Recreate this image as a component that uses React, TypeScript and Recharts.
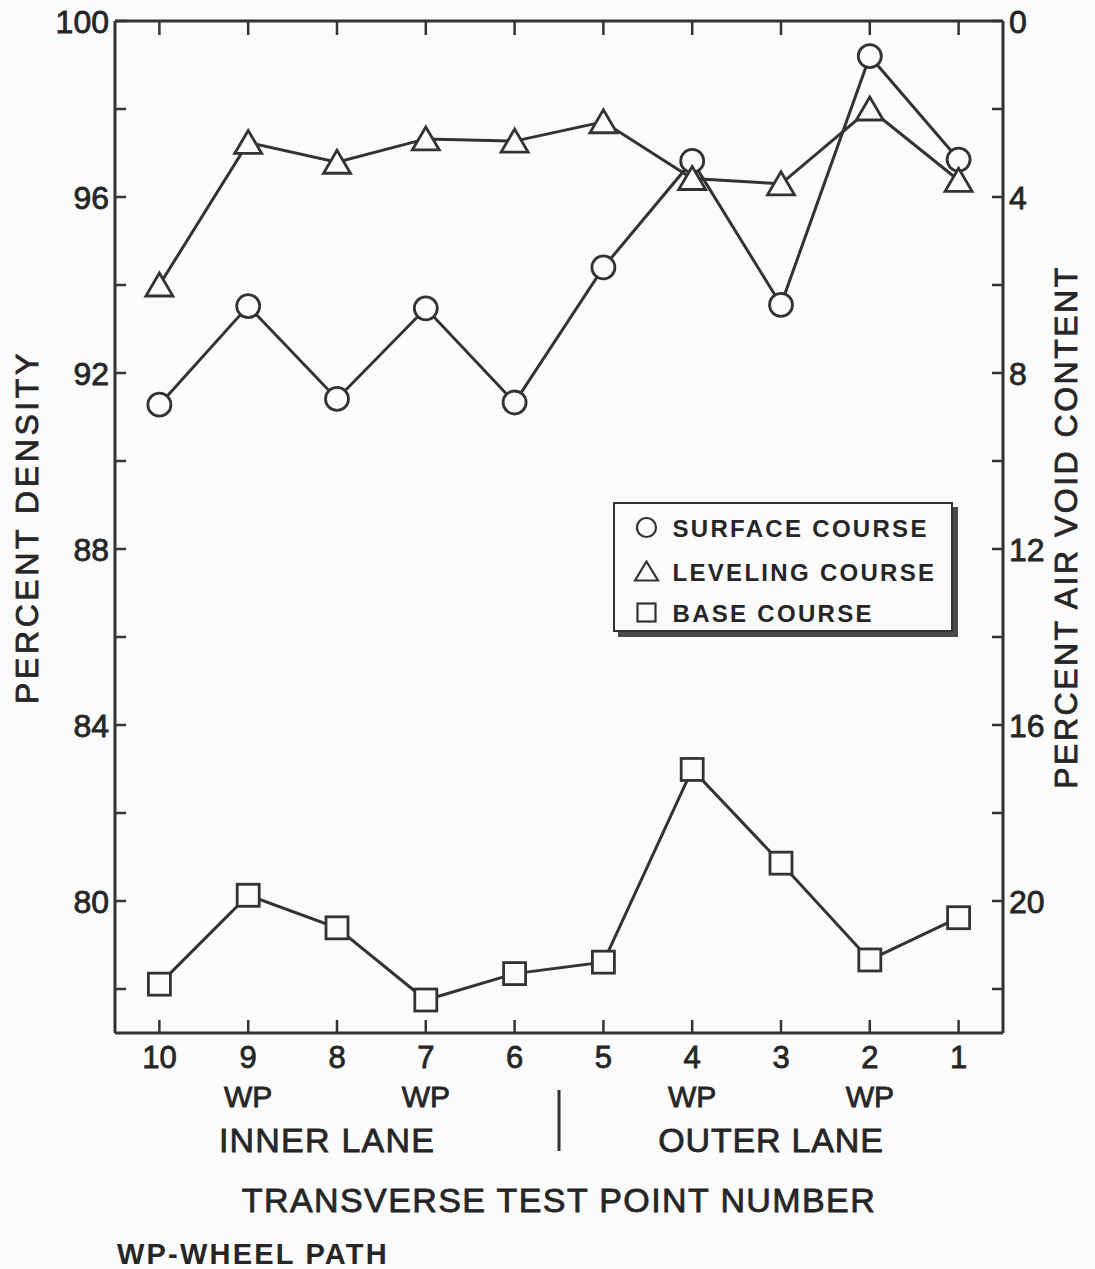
import React from 'react';
import { LineChart, Line, XAxis, YAxis, Legend, Label } from 'recharts';

// ---- data ----
const pointNumbers = [10, 9, 8, 7, 6, 5, 4, 3, 2, 1];
const surfaceDensity = [91.28, 93.52, 91.41, 93.47, 91.33, 94.4, 96.82, 93.55, 99.2, 96.85];
const levelingDensity = [94.0, 97.24, 96.79, 97.32, 97.27, 97.71, 96.42, 96.3, 98.0, 96.38];
const baseDensity = [78.11, 80.13, 79.39, 77.75, 78.35, 78.61, 82.99, 80.86, 78.66, 79.62];
const wheelPathPoints = [9, 7, 4, 2];
const densityTicks = [78, 80, 82, 84, 86, 88, 90, 92, 94, 96, 98, 100];
const densityLabels = [80, 84, 88, 92, 96, 100];
const voidTicks = [0, 2, 4, 6, 8, 10, 12, 14, 16, 18, 20, 22];
const voidLabels = [0, 4, 8, 12, 16, 20];
const seriesKeys = ['surface', 'leveling', 'base'];
const seriesNames = ['SURFACE COURSE', 'LEVELING COURSE', 'BASE COURSE'];
const laneLabels = ['INNER LANE', 'OUTER LANE'];

const data = pointNumbers.map((p, i) => ({
  point: p,
  surface: surfaceDensity[i],
  leveling: levelingDensity[i],
  base: baseDensity[i],
}));

// ---- layout / style ----
const W = 1095;
const H = 1269;
const LEFT_W = 115;
const RIGHT_W = 92;
const BOTTOM_H = 236;
const INK = '#333333';
const TEXT = '#262626';
const BG = '#fbfbfb';
const HALF_STEP = (W - LEFT_W - RIGHT_W) / 20;
const TXT_STROKE = { stroke: TEXT, strokeWidth: 0.8 };

const circleDot = (props: any) => {
  const { cx, cy, index } = props;
  if (cx == null || cy == null) return <g key={`c${index}`} />;
  return <circle key={`c${index}`} cx={cx} cy={cy} r={11.5} fill={BG} stroke={INK} strokeWidth={2.8} />;
};
const triangleDot = (props: any) => {
  const { cx, cy, index } = props;
  if (cx == null || cy == null) return <g key={`t${index}`} />;
  const pts = `${cx},${cy - 12} ${cx - 13.5},${cy + 11} ${cx + 13.5},${cy + 11}`;
  return <polygon key={`t${index}`} points={pts} fill={BG} stroke={INK} strokeWidth={2.8} strokeLinejoin="miter" />;
};
const squareDot = (props: any) => {
  const { cx, cy, index } = props;
  if (cx == null || cy == null) return <g key={`s${index}`} />;
  return <rect key={`s${index}`} x={cx - 11} y={cy - 11} width={22} height={22} fill={BG} stroke={INK} strokeWidth={2.8} />;
};

const BottomTick = (props: any) => {
  const { x, y, payload } = props;
  const v = payload.value;
  return (
    <g>
      <text x={x} y={y + 35} textAnchor="middle" fontSize={31} fill={TEXT} {...TXT_STROKE}>{v}</text>
      {wheelPathPoints.includes(v) && (
        <text x={x} y={y + 74} textAnchor="middle" fontSize={30} fill={TEXT} {...TXT_STROKE}>WP</text>
      )}
      {v === 8 && (
        <text x={x - 10} y={y + 119} textAnchor="middle" fontSize={34} letterSpacing={1.2} fill={TEXT} {...TXT_STROKE}>{laneLabels[0]}</text>
      )}
      {v === 3 && (
        <text x={x - 10} y={y + 119} textAnchor="middle" fontSize={34} letterSpacing={0.8} fill={TEXT} {...TXT_STROKE}>{laneLabels[1]}</text>
      )}
      {v === 5 && (
        <line x1={x - HALF_STEP} x2={x - HALF_STEP} y1={y + 57} y2={y + 118} stroke={INK} strokeWidth={3} />
      )}
    </g>
  );
};

const EmptyTick = () => <g />;

const LeftTick = (props: any) => {
  const { x, y, payload } = props;
  if (!densityLabels.includes(payload.value)) return <g />;
  return (
    <text x={x} y={y} dy="0.36em" textAnchor="end" fontSize={32} fill={TEXT} {...TXT_STROKE}>{payload.value}</text>
  );
};

const RightTick = (props: any) => {
  const { x, y, payload } = props;
  if (!voidLabels.includes(payload.value)) return <g />;
  return (
    <text x={x} y={y} dy="0.36em" textAnchor="start" fontSize={32} fill={TEXT} {...TXT_STROKE}>{payload.value}</text>
  );
};

const BottomTitle = (props: any) => {
  const vb = props.viewBox || {};
  const cx = vb.x + vb.width / 2;
  return (
    <g>
      <text x={cx} y={vb.y + 179} textAnchor="middle" fontSize={34} letterSpacing={1.4} fill={TEXT} {...TXT_STROKE}>
        TRANSVERSE TEST POINT NUMBER
      </text>
      <text x={117} y={vb.y + 231} textAnchor="start" fontSize={29} fontWeight="bold" letterSpacing={2.2} fill={TEXT}>
        WP-WHEEL PATH
      </text>
    </g>
  );
};

const LeftTitle = (props: any) => {
  const vb = props.viewBox || {};
  const cy = vb.y + vb.height / 2;
  const x = vb.x + 38;
  return (
    <text x={x} y={cy} transform={`rotate(-90, ${x}, ${cy})`} textAnchor="middle" fontSize={32} letterSpacing={3.6} fill={TEXT} {...TXT_STROKE}>
      PERCENT DENSITY
    </text>
  );
};

const RightTitle = (props: any) => {
  const vb = props.viewBox || {};
  const cy = vb.y + vb.height / 2;
  const x = vb.x + 74;
  return (
    <text x={x} y={cy} transform={`rotate(-90, ${x}, ${cy})`} textAnchor="middle" fontSize={32} letterSpacing={2.5} fill={TEXT} {...TXT_STROKE}>
      PERCENT AIR VOID CONTENT
    </text>
  );
};

const LegendBox = (props: any) => {
  const payload = props.payload || [];
  const rowsY = [23.5, 67.5, 108.5];
  const sx = 31.5;
  return (
    <div
      style={{
        width: 340,
        height: 130,
        boxSizing: 'border-box',
        border: `2.5px solid ${INK}`,
        boxShadow: `5px 5px 0 #4a4a4a`,
        background: BG,
      }}
    >
      <svg width={335} height={125} style={{ display: 'block' }}>
        {seriesKeys.map((key, i) => {
          const item = payload.find((p: any) => p.dataKey === key);
          const label = item ? item.value : seriesNames[i];
          const y = rowsY[i];
          let sym: any = null;
          if (key === 'surface') sym = <circle cx={sx} cy={y} r={9.5} fill="none" stroke={INK} strokeWidth={2.2} />;
          else if (key === 'leveling')
            sym = <polygon points={`${sx},${y - 10} ${sx - 11.5},${y + 9} ${sx + 11.5},${y + 9}`} fill="none" stroke={INK} strokeWidth={2.2} />;
          else sym = <rect x={sx - 9} y={y - 9} width={18} height={18} fill="none" stroke={INK} strokeWidth={2.2} />;
          return (
            <g key={key}>
              {sym}
              <text x={57.5} y={y + 9} fontSize={24} fontWeight="bold" letterSpacing={2.3} fill={TEXT}>
                {label}
              </text>
            </g>
          );
        })}
      </svg>
    </div>
  );
};

export default function App() {
  return (
    <div
      style={{
        position: 'absolute',
        left: 0,
        top: 0,
        width: W,
        height: H,
        background: BG,
        fontFamily: "'Liberation Sans', Arial, sans-serif",
      }}
    >
      <LineChart width={W} height={H} data={data} margin={{ top: 20, right: 0, bottom: 0, left: 0 }}>
        <XAxis
          xAxisId="bottom"
          dataKey="point"
          type="number"
          domain={[0.5, 10.5]}
          allowDataOverflow
          reversed
          ticks={pointNumbers}
          interval={0}
          height={BOTTOM_H}
          tickSize={-13}
          tickMargin={13}
          axisLine={{ stroke: INK, strokeWidth: 3 }}
          tickLine={{ stroke: INK, strokeWidth: 2.5 }}
          tick={<BottomTick />}
        >
          <Label content={<BottomTitle />} />
        </XAxis>
        <XAxis
          xAxisId="top"
          orientation="top"
          dataKey="point"
          type="number"
          domain={[0.5, 10.5]}
          allowDataOverflow
          reversed
          ticks={pointNumbers}
          interval={0}
          height={1}
          tickSize={-14}
          tick={<EmptyTick />}
          axisLine={{ stroke: INK, strokeWidth: 3 }}
          tickLine={{ stroke: INK, strokeWidth: 2.5 }}
        />
        <YAxis
          yAxisId="left"
          type="number"
          domain={[77, 100]}
          allowDataOverflow
          ticks={densityTicks}
          interval={0}
          width={LEFT_W}
          tickSize={-11}
          tickMargin={17}
          tick={<LeftTick />}
          axisLine={{ stroke: INK, strokeWidth: 3 }}
          tickLine={{ stroke: INK, strokeWidth: 2.5 }}
        >
          <Label content={<LeftTitle />} />
        </YAxis>
        <YAxis
          yAxisId="right"
          orientation="right"
          type="number"
          domain={[0, 23]}
          allowDataOverflow
          reversed
          ticks={voidTicks}
          interval={0}
          width={RIGHT_W}
          tickSize={-11}
          tickMargin={17}
          tick={<RightTick />}
          axisLine={{ stroke: INK, strokeWidth: 3 }}
          tickLine={{ stroke: INK, strokeWidth: 2.5 }}
        >
          <Label content={<RightTitle />} />
        </YAxis>
        <Legend
          layout="vertical"
          align="center"
          verticalAlign="middle"
          content={<LegendBox />}
          wrapperStyle={{ left: 613, top: 502, width: 345, height: 135 }}
        />
        <Line
          xAxisId="bottom"
          yAxisId="left"
          type="linear"
          dataKey="surface"
          name={seriesNames[0]}
          stroke={INK}
          strokeWidth={3}
          dot={circleDot}
          activeDot={false}
          isAnimationActive={false}
        />
        <Line
          xAxisId="bottom"
          yAxisId="left"
          type="linear"
          dataKey="leveling"
          name={seriesNames[1]}
          stroke={INK}
          strokeWidth={3}
          dot={triangleDot}
          activeDot={false}
          isAnimationActive={false}
        />
        <Line
          xAxisId="bottom"
          yAxisId="left"
          type="linear"
          dataKey="base"
          name={seriesNames[2]}
          stroke={INK}
          strokeWidth={3}
          dot={squareDot}
          activeDot={false}
          isAnimationActive={false}
        />
      </LineChart>
    </div>
  );
}
